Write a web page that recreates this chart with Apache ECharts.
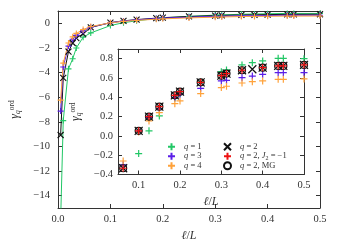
<!DOCTYPE html>
<html><head><meta charset="utf-8">
<script src="https://cdn.jsdelivr.net/npm/echarts@6/dist/echarts.min.js"></script>
<style>html,body{margin:0;padding:0;background:#fff}#c{width:338px;height:250px}</style>
</head><body><div id="c"></div>
<script>
// ---- data ----
const xVals = [0.005, 0.01, 0.02, 0.028, 0.035, 0.048, 0.0625, 0.1, 0.125, 0.15, 0.1875, 0.2, 0.25, 0.3, 0.3125, 0.35, 0.375, 0.4, 0.4375, 0.45, 0.5];
const q1 = [-16, -7.9, -3.7, -2.88, -2.0, -1.13, -0.78, -0.183, 0.052, 0.207, 0.39, 0.44, 0.56, 0.665, 0.683, 0.735, 0.758, 0.776, 0.803, 0.803, 0.8];
const q2 = [-9.07, -4.44, -2.3, -1.6, -1.2, -0.85, -0.335, 0.052, 0.2, 0.303, 0.42, 0.458, 0.555, 0.624, 0.645, 0.68, 0.69, 0.707, 0.725, 0.725, 0.735];
const q3 = [-7.13, -3.55, -1.85, -1.3, -0.98, -0.62, -0.30, 0.05, 0.19, 0.28, 0.396, 0.43, 0.493, 0.569, 0.576, 0.603, 0.62, 0.638, 0.655, 0.655, 0.655];
const q4 = [-6.24, -3.23, -1.6, -1.1, -0.82, -0.5, -0.26, 0.04, 0.155, 0.24, 0.334, 0.362, 0.438, 0.5, 0.514, 0.548, 0.562, 0.569, 0.586, 0.586, 0.59];
const q2J2 = [null, null, null, null, null, null, -0.335, 0.052, 0.2, 0.303, 0.42, 0.458, 0.555, 0.624, 0.645, 0.68, null, 0.707, 0.725, 0.725, 0.735];
const q2MG = [null, null, null, null, null, null, -0.335, 0.052, 0.2, 0.303, 0.42, 0.458, 0.555, 0.624, 0.645, 0.68, null, 0.707, 0.725, 0.725, 0.735];
const seriesNames = ['q = 1', 'q = 2', 'q = 3', 'q = 4', 'q = 2, J2 = -1', 'q = 2, MG'];

// ---- style ----
const GREEN = '#22c766', PURPLE = '#5a1ee8', ORANGE = '#ffa23a', RED = '#ee1111', BLACK = '#111';
const PLUS = 'path://M0,5L10,5M5,0L5,10';
const CROSS = 'path://M0,0L10,10M10,0L0,10';
const FONT = 'Liberation Serif';
const AX = '#333';

function pairs(ys) { const out = []; ys.forEach((y, i) => { if (y !== null) out.push([xVals[i], y]); }); return out; }
const minus = s => String(s).replace('-', '\u2212');

function mainLine(name, ys, color, sym, size) {
  return { name: 'main ' + name, type: 'line', xAxisIndex: 0, yAxisIndex: 0, data: pairs(ys),
    symbol: sym, symbolSize: size, showSymbol: true, clip: true,
    lineStyle: { color: color, width: 1 },
    itemStyle: { color: 'rgba(0,0,0,0)', borderColor: color, borderWidth: 1.1 },
    emphasis: { disabled: true }, animation: false, z: 2 };
}
function insetScatter(name, ys, color, sym, size) {
  return { name: name, type: 'scatter', xAxisIndex: 2, yAxisIndex: 2, data: pairs(ys),
    symbol: sym, symbolSize: size, clip: true,
    itemStyle: { color: 'rgba(0,0,0,0)', borderColor: color, borderWidth: 1.2, opacity: 1 },
    emphasis: { disabled: true }, animation: false, z: 5 };
}

const tickCommon = { show: true, inside: true, length: 4, lineStyle: { color: AX, width: 1 } };
const lineCommon = { show: true, onZero: false, lineStyle: { color: AX, width: 1 } };
const lblStyle = { fontFamily: FONT, fontSize: 10.5, color: '#333' };
const richName = {
  i: { fontFamily: FONT, fontStyle: 'italic', fontSize: 12, color: '#333' },
  n: { fontFamily: FONT, fontSize: 12, color: '#333' },
  g: { fontFamily: FONT, fontStyle: 'italic', fontSize: 12, color: '#333' },
  q: { fontFamily: FONT, fontStyle: 'italic', fontSize: 7.5, color: '#333', verticalAlign: 'bottom', padding: [5, 0, 0, 0] },
  o: { fontFamily: FONT, fontSize: 7.5, color: '#333', verticalAlign: 'top', padding: [0, 0, 6, 0] }
};
const fmt1 = v => minus(v.toFixed(1));
const fmt0 = v => minus(Math.round(v));

const opt = {
  animation: false,
  backgroundColor: '#fff',
  grid: [
    { left: 56, top: 11, right: 18, bottom: 42, show: false },
    { left: 118, top: 49, right: 34, bottom: 75.5, show: true, backgroundColor: '#fff', borderWidth: 0, z: 3 }
  ],
  xAxis: [
    { type: 'value', gridIndex: 0, min: 0, max: 0.5, interval: 0.1, position: 'bottom',
      axisLine: lineCommon, axisTick: tickCommon, splitLine: { show: false },
      axisLabel: Object.assign({ margin: 6, formatter: fmt1 }, lblStyle),
      name: '{i|ℓ}{n|/}{i|L}', nameLocation: 'middle', nameGap: 20, nameTextStyle: { rich: richName } },
    { type: 'value', gridIndex: 0, min: 0, max: 0.5, interval: 0.1, position: 'top',
      axisLine: lineCommon, axisTick: tickCommon, splitLine: { show: false }, axisLabel: { show: false } },
    { type: 'value', gridIndex: 1, min: 0.05, max: 0.5, splitNumber: 5, position: 'bottom', z: 4,
      axisLine: lineCommon, axisTick: tickCommon, splitLine: { show: false },
      axisLabel: Object.assign({ margin: 5, formatter: fmt1, showMinLabel: false }, lblStyle),
      name: '{i|ℓ}{n|/}{i|L}', nameLocation: 'middle', nameGap: 18, nameTextStyle: { rich: richName } },
    { type: 'value', gridIndex: 1, min: 0.05, max: 0.5, splitNumber: 5, position: 'top', z: 4,
      axisLine: lineCommon, axisTick: tickCommon, splitLine: { show: false }, axisLabel: { show: false } }
  ],
  yAxis: [
    { type: 'value', gridIndex: 0, min: -15, max: 1, splitNumber: 8, position: 'left',
      axisLine: lineCommon, axisTick: tickCommon, splitLine: { show: false },
      axisLabel: Object.assign({ margin: 8, formatter: fmt0, showMinLabel: false, showMaxLabel: false }, lblStyle),
      name: '{g|γ}{q|q}{o|ord}', nameLocation: 'middle', nameRotate: 90, nameGap: 36, nameTextStyle: { rich: richName } },
    { type: 'value', gridIndex: 0, min: -15, max: 1, splitNumber: 8, position: 'right',
      axisLine: lineCommon, axisTick: tickCommon, splitLine: { show: false }, axisLabel: { show: false } },
    { type: 'value', gridIndex: 1, min: -0.4, max: 0.9, interval: 0.2, position: 'left', z: 4,
      axisLine: lineCommon, axisTick: tickCommon, splitLine: { show: false },
      axisLabel: Object.assign({ margin: 5, formatter: fmt1, showMaxLabel: false }, lblStyle),
      name: '{g|γ}{q|q}{o|ord}', nameLocation: 'middle', nameRotate: 90, nameGap: 32, nameTextStyle: { rich: richName } },
    { type: 'value', gridIndex: 1, min: -0.4, max: 0.9, interval: 0.2, position: 'right', z: 4,
      axisLine: lineCommon, axisTick: tickCommon, splitLine: { show: false }, axisLabel: { show: false } }
  ],
  legend: [
    { data: ['q = 1', 'q = 3', 'q = 4'], orient: 'vertical', left: 162, top: 137, itemWidth: 7, itemHeight: 7, itemGap: 0,
      selectedMode: false, formatter: n => '{i|q} = ' + n.slice(4),
      textStyle: { fontFamily: FONT, fontSize: 8.5, lineHeight: 9.5, color: '#333', padding: [0, 0, 0, 4], rich: { i: { fontFamily: FONT, fontStyle: 'italic', fontSize: 8.5, color: '#333' } } } },
    { data: ['q = 2', 'q = 2, J2 = -1', 'q = 2, MG'], orient: 'vertical', left: 218, top: 137, itemWidth: 7, itemHeight: 7, itemGap: 0,
      selectedMode: false,
      formatter: n => n === 'q = 2' ? '{i|q} = 2' : (n === 'q = 2, MG' ? '{i|q} = 2, MG' : '{i|q} = 2, {i|J}{s|2} = \u22121'),
      textStyle: { fontFamily: FONT, fontSize: 8.5, lineHeight: 9.5, color: '#333', padding: [0, 0, 0, 4],
        rich: { i: { fontFamily: FONT, fontStyle: 'italic', fontSize: 8.5, color: '#333' },
                s: { fontFamily: FONT, fontSize: 6, color: '#333', verticalAlign: 'bottom', padding: [4, 0, 0, 0] } } } }
  ],
  series: [
    mainLine('q = 1', q1, GREEN, PLUS, 6),
    mainLine('q = 2', q2, BLACK, CROSS, 6),
    mainLine('q = 3', q3, PURPLE, PLUS, 6),
    mainLine('q = 4', q4, ORANGE, PLUS, 6),
    insetScatter('q = 1', q1, GREEN, PLUS, 7),
    insetScatter('q = 3', q3, PURPLE, PLUS, 7),
    insetScatter('q = 4', q4, ORANGE, PLUS, 7),
    insetScatter('q = 2, MG', q2MG, BLACK, 'circle', 7),
    insetScatter('q = 2', q2, BLACK, CROSS, 8),
    insetScatter('q = 2, J2 = -1', q2J2, RED, PLUS, 7)
  ]
};
const chart = echarts.init(document.getElementById('c'), null, { renderer: 'canvas' });
chart.setOption(opt);
</script></body></html>
